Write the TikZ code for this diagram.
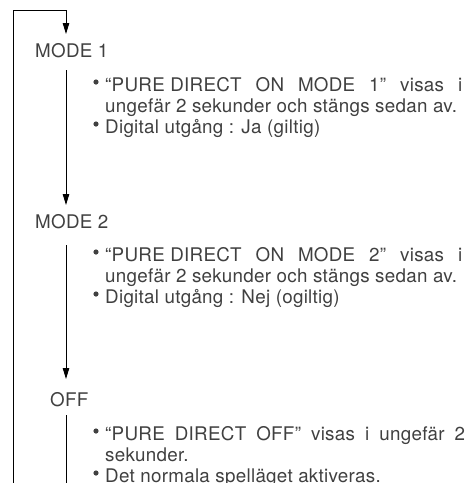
\documentclass[tikz,border=0pt]{standalone}
\usepackage{fontspec}
\setmainfont{TeX Gyre Heros}
\newfontfamily\lblfont[LetterSpace=1.5]{TeX Gyre Heros}
\usetikzlibrary{arrows.meta}
\definecolor{txt}{gray}{0.25}
\begin{document}
\begin{tikzpicture}[x=1pt,y=-1pt,
  lbl/.style={anchor=base west, inner sep=0pt, font=\lblfont\fontsize{18.8}{21}\selectfont, text=txt},
  dot/.style={circle, fill=txt, inner sep=0pt, minimum size=5.2pt},
  flow/.style={line width=1pt, draw=black},
  arr/.style={flow, -{Triangle[length=11pt,width=6.5pt]}}]
\useasboundingbox (0,0) rectangle (470,483);
% state labels
\node[lbl] (mode1) at (35,57) {MODE 1};
\node[lbl] (mode2) at (35,228) {MODE 2};
\node[lbl] (off) at (50,406) {OFF};
% MODE 1 notes
\node[dot] (d11) at (96,82) {};
\node[lbl] (t11) at (105,91) {\makebox[357pt][s]{\mbox{“PURE DIRECT} ON MODE 1” visas i}};
\node[lbl] (t12) at (105,112) {ungefär 2 sekunder och stängs sedan av.};
\node[dot] (d12) at (96,124) {};
\node[lbl] (t13) at (105,133) {Digital utgång : Ja (giltig)};
% MODE 2 notes
\node[dot] (d21) at (96,252) {};
\node[lbl] (t21) at (105,261) {\makebox[357pt][s]{\mbox{“PURE DIRECT} ON MODE 2” visas i}};
\node[lbl] (t22) at (105,282) {ungefär 2 sekunder och stängs sedan av.};
\node[dot] (d22) at (96,294) {};
\node[lbl] (t23) at (105,303) {Digital utgång : Nej (ogiltig)};
% OFF notes
\node[dot] (d31) at (96,431) {};
\node[lbl] (t31) at (105,440) {\makebox[360pt][s]{“PURE DIRECT OFF” visas i ungefär 2}};
\node[lbl] (t32) at (105,461) {sekunder.};
\node[dot] (d32) at (96,473) {};
\node[lbl] (t33) at (105,482) {Det normala spelläget aktiveras.};
% connector points
\coordinate (loopbot) at (13,483);
\coordinate (looptop) at (13,10);
\coordinate (in1top) at (66,10);
\coordinate (in1) at (66,34);
\coordinate (out1) at (66,70);
\coordinate (in2) at (66,205);
\coordinate (out2) at (66,245);
\coordinate (in3) at (66,379);
\coordinate (out3) at (66,415);
\coordinate (end3) at (66,483);
% connectors
\draw[arr] (loopbot) -- (looptop) -- (in1top) -- (in1);
\draw[arr] (out1) -- (in2);
\draw[arr] (out2) -- (in3);
\draw[flow] (out3) -- (end3);
\end{tikzpicture}
\end{document}
